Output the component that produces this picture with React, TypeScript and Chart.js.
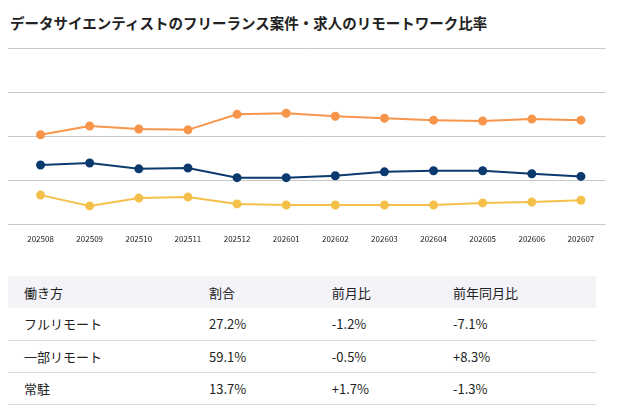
import React, { useEffect, useRef } from "react";
import Chart from "chart.js/auto";

const categories = ["202508","202509","202510","202511","202512","202601","202602","202603","202604","202605","202606","202607"];
const partRemote = [50.8,55.8,54.1,53.6,62.4,63,61.3,60.2,59.1,58.6,59.7,59.1];
const fullRemote = [33.7,34.8,31.5,32,26.5,26.5,27.6,29.8,30.4,30.4,28.7,27.2];
const onsite = [16.6,10.5,14.9,15.5,11.6,11,11,11,11,12.2,12.7,13.7];

const tableHeader = ["働き方","割合","前月比","前年同月比"];
const tableRows = [
  ["フルリモート","27.2%","-1.2%","-7.1%"],
  ["一部リモート","59.1%","-0.5%","+8.3%"],
  ["常駐","13.7%","+1.7%","-1.3%"],
];

const font = "'Noto Sans CJK JP', 'Noto Sans', sans-serif";

export default function App() {
  const ref = useRef<HTMLCanvasElement>(null);
  useEffect(() => {
    const ds = (data: number[], color: string) => ({
      data, borderColor: color, backgroundColor: color, borderWidth: 2,
      pointRadius: 3.5, pointHoverRadius: 3.5, tension: 0,
    });
    const chart = new Chart(ref.current!, {
      type: "line",
      data: { labels: categories, datasets: [ds(partRemote, "#f7954a"), ds(fullRemote, "#0b3a6e"), ds(onsite, "#f5c04a")] },
      options: {
        animation: false, responsive: false, maintainAspectRatio: false,
        layout: { padding: { left: 0, right: 0, top: 10 } },
        plugins: { legend: { display: false }, tooltip: { enabled: false } },
        scales: {
          x: { offset: true, grid: { display: false }, border: { display: false }, ticks: { color: "#222", font: { size: 8, family: font }, maxRotation: 0, padding: 2 } },
          y: { min: 0, max: 100, ticks: { display: false, stepSize: 25 }, grid: { color: "#c8c8c8" }, border: { display: false } },
        },
      },
    });
    return () => chart.destroy();
  }, []);
  const cell = (w: number): React.CSSProperties => ({ width: w, padding: "0 0 0 16px", textAlign: "left", fontWeight: 400 });
  const widths = [194, 118, 116, 160];
  return (
    <div style={{ fontFamily: font, color: "#222" }}>
      <div style={{ fontSize: 14.5, fontWeight: 700, marginTop: 4, marginLeft: 2, height: 26 }}>データサイエンティストのフリーランス案件・求人のリモートワーク比率</div>
      <canvas ref={ref} width={603} height={208} style={{ display: "block" }} />
      <table style={{ borderCollapse: "collapse", marginTop: 30, width: 588, fontSize: 13 }}>
        <thead>
          <tr style={{ background: "#f3f3f8", height: 32 }}>
            {tableHeader.map((h, i) => <th key={i} style={cell(widths[i])}>{h}</th>)}
          </tr>
        </thead>
        <tbody>
          {tableRows.map((r, ri) => (
            <tr key={ri} style={{ height: 32, borderBottom: "1px solid #ddd" }}>
              {r.map((c, i) => <td key={i} style={cell(widths[i])}>{c}</td>)}
            </tr>
          ))}
        </tbody>
      </table>
    </div>
  );
}
